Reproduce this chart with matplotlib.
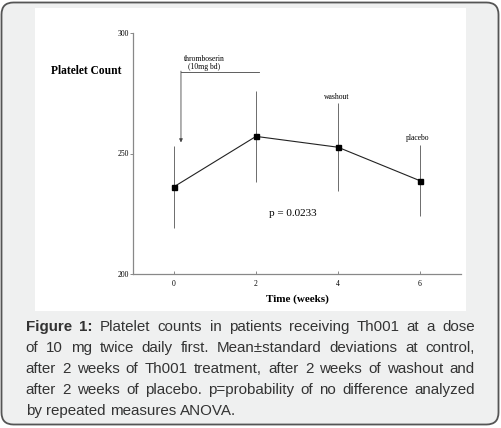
import matplotlib
matplotlib.use("Agg")
import matplotlib.pyplot as plt
from matplotlib.patches import FancyBboxPatch, Rectangle

# data
weeks = [0, 2, 4, 6]
platelets = [236.2, 257.1, 252.6, 238.7]
sd = [17.0, 18.8, 18.3, 14.8]
x_ticks = [0, 2, 4, 6]
y_ticks = [200, 250, 300]
phase_labels = ["washout", "placebo"]

caption_lines = [
    "Figure 1: Platelet counts in patients receiving Th001 at a dose",
    "of 10 mg twice daily first. Mean\u00b1standard deviations at control,",
    "after 2 weeks of Th001 treatment, after 2 weeks of washout and",
    "after 2 weeks of placebo. p=probability of no difference analyzed",
    "by repeated measures ANOVA.",
]

W, H = 501, 428
SERIF = "Liberation Serif"
SANS = "Liberation Sans"
CAP_COLOR = "#333333"
CAP_SIZE = 10.9

fig = plt.figure(figsize=(W / 100, H / 100), dpi=100)
fig.patch.set_facecolor("white")

# rounded grey card behind everything
card = FancyBboxPatch((1.5 / 100, 3.5 / 100), 497 / 100, 422 / 100,
                      boxstyle="round,pad=0,rounding_size=0.12",
                      transform=fig.dpi_scale_trans, facecolor="#eff0f0",
                      edgecolor="#555555", linewidth=1.3, zorder=0)
fig.patches.append(card)
fig.patches.append(Rectangle((35 / W, 1 - 311 / H), 431 / W, 303 / H,
                             transform=fig.transFigure, facecolor="white",
                             edgecolor="none", zorder=1))

ax = fig.add_axes([133 / W, 1 - 274 / H, 328 / W, 241 / H])
ax.set_facecolor("none")
ax.set_zorder(2)

ax.errorbar(weeks, platelets, yerr=sd, color="#222222", linewidth=0.8,
            elinewidth=0.6, ecolor="#555555", capsize=0, marker="s",
            markersize=3.6, markerfacecolor="black", markeredgecolor="black")

ax.set_xlim(-1, 7)
ax.set_ylim(200, 300)
ax.set_xticks(x_ticks)
ax.set_yticks(y_ticks)
ax.set_xticklabels([str(t) for t in x_ticks], family=SERIF, fontsize=5.5)
ax.set_yticklabels([str(t) for t in y_ticks], family=SERIF, fontsize=5.5)
ax.tick_params(axis="x", direction="in", length=2, width=0.6,
               color="#777777", pad=4)
ax.tick_params(axis="y", direction="out", length=2, width=0.6,
               color="#777777", pad=1)
for side in ("top", "right"):
    ax.spines[side].set_visible(False)
for side in ("left", "bottom"):
    ax.spines[side].set_color("#888888")
    ax.spines[side].set_linewidth(0.9)

ax.set_xlabel("Time (weeks)", family=SERIF, fontweight="bold", fontsize=8,
              labelpad=5)
fig.text(51 / W, 1 - 71 / H, "Platelet Count", family=SERIF,
         fontweight="bold", fontsize=8.3, va="center", ha="left", zorder=3)

# treatment bracket with arrow
ax.plot([0.17, 2.07], [283.9, 283.9], color="#444444", linewidth=0.6)
ax.annotate("", xy=(0.17, 254.6), xytext=(0.17, 284.2),
            arrowprops=dict(arrowstyle="-|>", color="#444444", lw=0.6,
                            mutation_scale=5, shrinkA=0, shrinkB=0))
ax.text(0.73, 287.5, "thromboserin\n(10mg bd)", family=SERIF, fontsize=5.5,
        ha="center", va="center", linespacing=1.0)
ax.text(3.97, 273.6, phase_labels[0], family=SERIF, fontsize=5.5,
        ha="center", va="center")
ax.text(5.94, 256.3, phase_labels[1], family=SERIF, fontsize=5.5,
        ha="center", va="center")
ax.text(2.9, 225.3, "p = 0.0233", family=SERIF, fontsize=8,
        ha="center", va="center")

# justified caption
renderer = fig.canvas.get_renderer()
x_left, x_right = 25.7 / W, 475 / W
probe_a = fig.text(0, 0, "a a", family=SANS, fontsize=CAP_SIZE)
probe_b = fig.text(0, 0, "aa", family=SANS, fontsize=CAP_SIZE)
space = (probe_a.get_window_extent(renderer).width
         - probe_b.get_window_extent(renderer).width) / W
probe_a.remove()
probe_b.remove()

for i, line in enumerate(caption_lines):
    y = 1 - (331 + 21 * i) / H
    words = line.split(" ")
    texts = []
    for j, w in enumerate(words):
        bold = i == 0 and j < 2
        t = fig.text(0, y, w, family=SANS, fontsize=CAP_SIZE, color=CAP_COLOR,
                     fontweight="bold" if bold else "normal",
                     va="baseline", ha="left", zorder=3)
        texts.append(t)
    widths = [t.get_window_extent(renderer).width / W for t in texts]
    if i < len(caption_lines) - 1:
        gap = (x_right - x_left - sum(widths)) / (len(words) - 1)
    else:
        gap = space
    x = x_left
    for t, w in zip(texts, widths):
        t.set_x(x)
        x += w + gap

fig.savefig("out.png", dpi=100)
